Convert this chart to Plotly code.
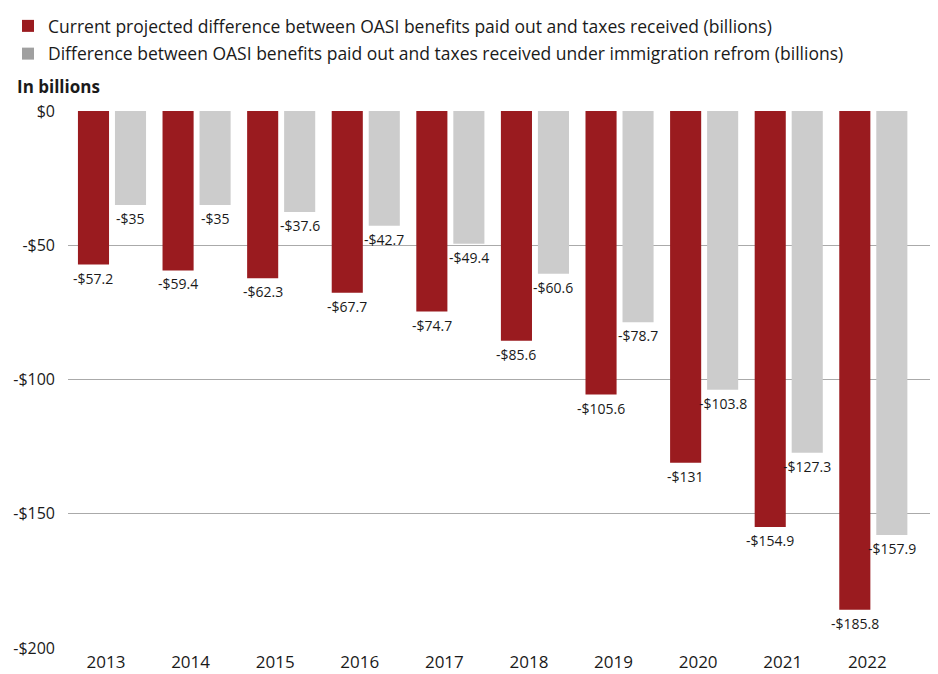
import plotly.graph_objects as go

years = ["2013", "2014", "2015", "2016", "2017", "2018", "2019", "2020", "2021", "2022"]
current = [-57.2, -59.4, -62.3, -67.7, -74.7, -85.6, -105.6, -131, -154.9, -185.8]
reform = [-35, -35, -37.6, -42.7, -49.4, -60.6, -78.7, -103.8, -127.3, -157.9]
current_labels = ["-$57.2", "-$59.4", "-$62.3", "-$67.7", "-$74.7", "-$85.6", "-$105.6", "-$131", "-$154.9", "-$185.8"]
reform_labels = ["-$35", "-$35", "-$37.6", "-$42.7", "-$49.4", "-$60.6", "-$78.7", "-$103.8", "-$127.3", "-$157.9"]
tick_vals = [0, -50, -100, -150, -200]
tick_text = ["$0", "-$50", "-$100", "-$150", "-$200"]
name_current = "Current projected difference between OASI benefits paid out and taxes received (billions)"
name_reform = "Difference between OASI benefits paid out and taxes received under immigration refrom (billions)"

RED = "#9a1b1f"
GRAY = "#cccccc"
GRAY_KEY = "#a0a0a0"
FONT = "Open Sans"
TXT = "#1a1a1a"

fig = go.Figure()
fig.add_trace(go.Bar(x=years, y=current, name=name_current, offsetgroup="a", showlegend=False,
                     marker=dict(color=RED, line=dict(width=0))))
fig.add_trace(go.Bar(x=years, y=reform, name=name_reform, offsetgroup="b", showlegend=False,
                     marker=dict(color=GRAY, line=dict(width=0))))
# legend keys (no data, share slots with the real bars)
fig.add_trace(go.Bar(x=[years[0]], y=[None], name=name_current, offsetgroup="a", legendgroup="a",
                     marker=dict(color=RED, line=dict(width=0))))
fig.add_trace(go.Bar(x=[years[0]], y=[None], name=name_reform, offsetgroup="b", legendgroup="b",
                     marker=dict(color=GRAY_KEY, line=dict(width=0))))

annotations = [dict(
    text="<b>In billions</b>", xref="paper", yref="paper", x=-0.0615, y=1.045,
    xanchor="left", yanchor="middle", showarrow=False,
    font=dict(size=17, family=FONT, color=TXT),
)]
for i, (v, lab) in enumerate(zip(current, current_labels)):
    annotations.append(dict(x=i, y=v, text=lab, xref="x", yref="y", showarrow=False,
                            xshift=-18.5, yshift=-2, yanchor="top", xanchor="center",
                            font=dict(size=14, family=FONT, color=TXT)))
for i, (v, lab) in enumerate(zip(reform, reform_labels)):
    annotations.append(dict(x=i, y=v, text=lab, xref="x", yref="y", showarrow=False,
                            xshift=18.5, yshift=-2, yanchor="top", xanchor="center",
                            font=dict(size=14, family=FONT, color=TXT)))

fig.update_layout(
    width=930, height=666,
    margin=dict(l=60, r=8, t=103, b=26, autoexpand=False),
    paper_bgcolor="white", plot_bgcolor="white",
    font=dict(family=FONT, color=TXT, size=16),
    barmode="group", bargap=0.125, bargroupgap=0.16,
    showlegend=True,
    legend=dict(
        xref="container", yref="container", x=0.0, y=1.0, xanchor="left", yanchor="top",
        orientation="v", font=dict(size=17.5, family=FONT, color=TXT),
        tracegroupgap=2, itemwidth=30, bgcolor="rgba(0,0,0,0)",
    ),
    xaxis=dict(
        type="category", range=[-0.52, 9.67], showgrid=False, zeroline=False, showline=False,
        ticks="", tickangle=0, tickfont=dict(size=17, family=FONT, color=TXT),
        ticklabelshift=-6, ticklabelstandoff=2,
    ),
    yaxis=dict(
        range=[-200, 0], tickvals=tick_vals, ticktext=tick_text, showgrid=True,
        gridcolor="#aaaaaa", gridwidth=1, zeroline=False, showline=False, ticks="",
        tickfont=dict(size=16, family=FONT, color=TXT), ticklabelstandoff=12,
    ),
    annotations=annotations,
)

fig.write_html("out.html")
